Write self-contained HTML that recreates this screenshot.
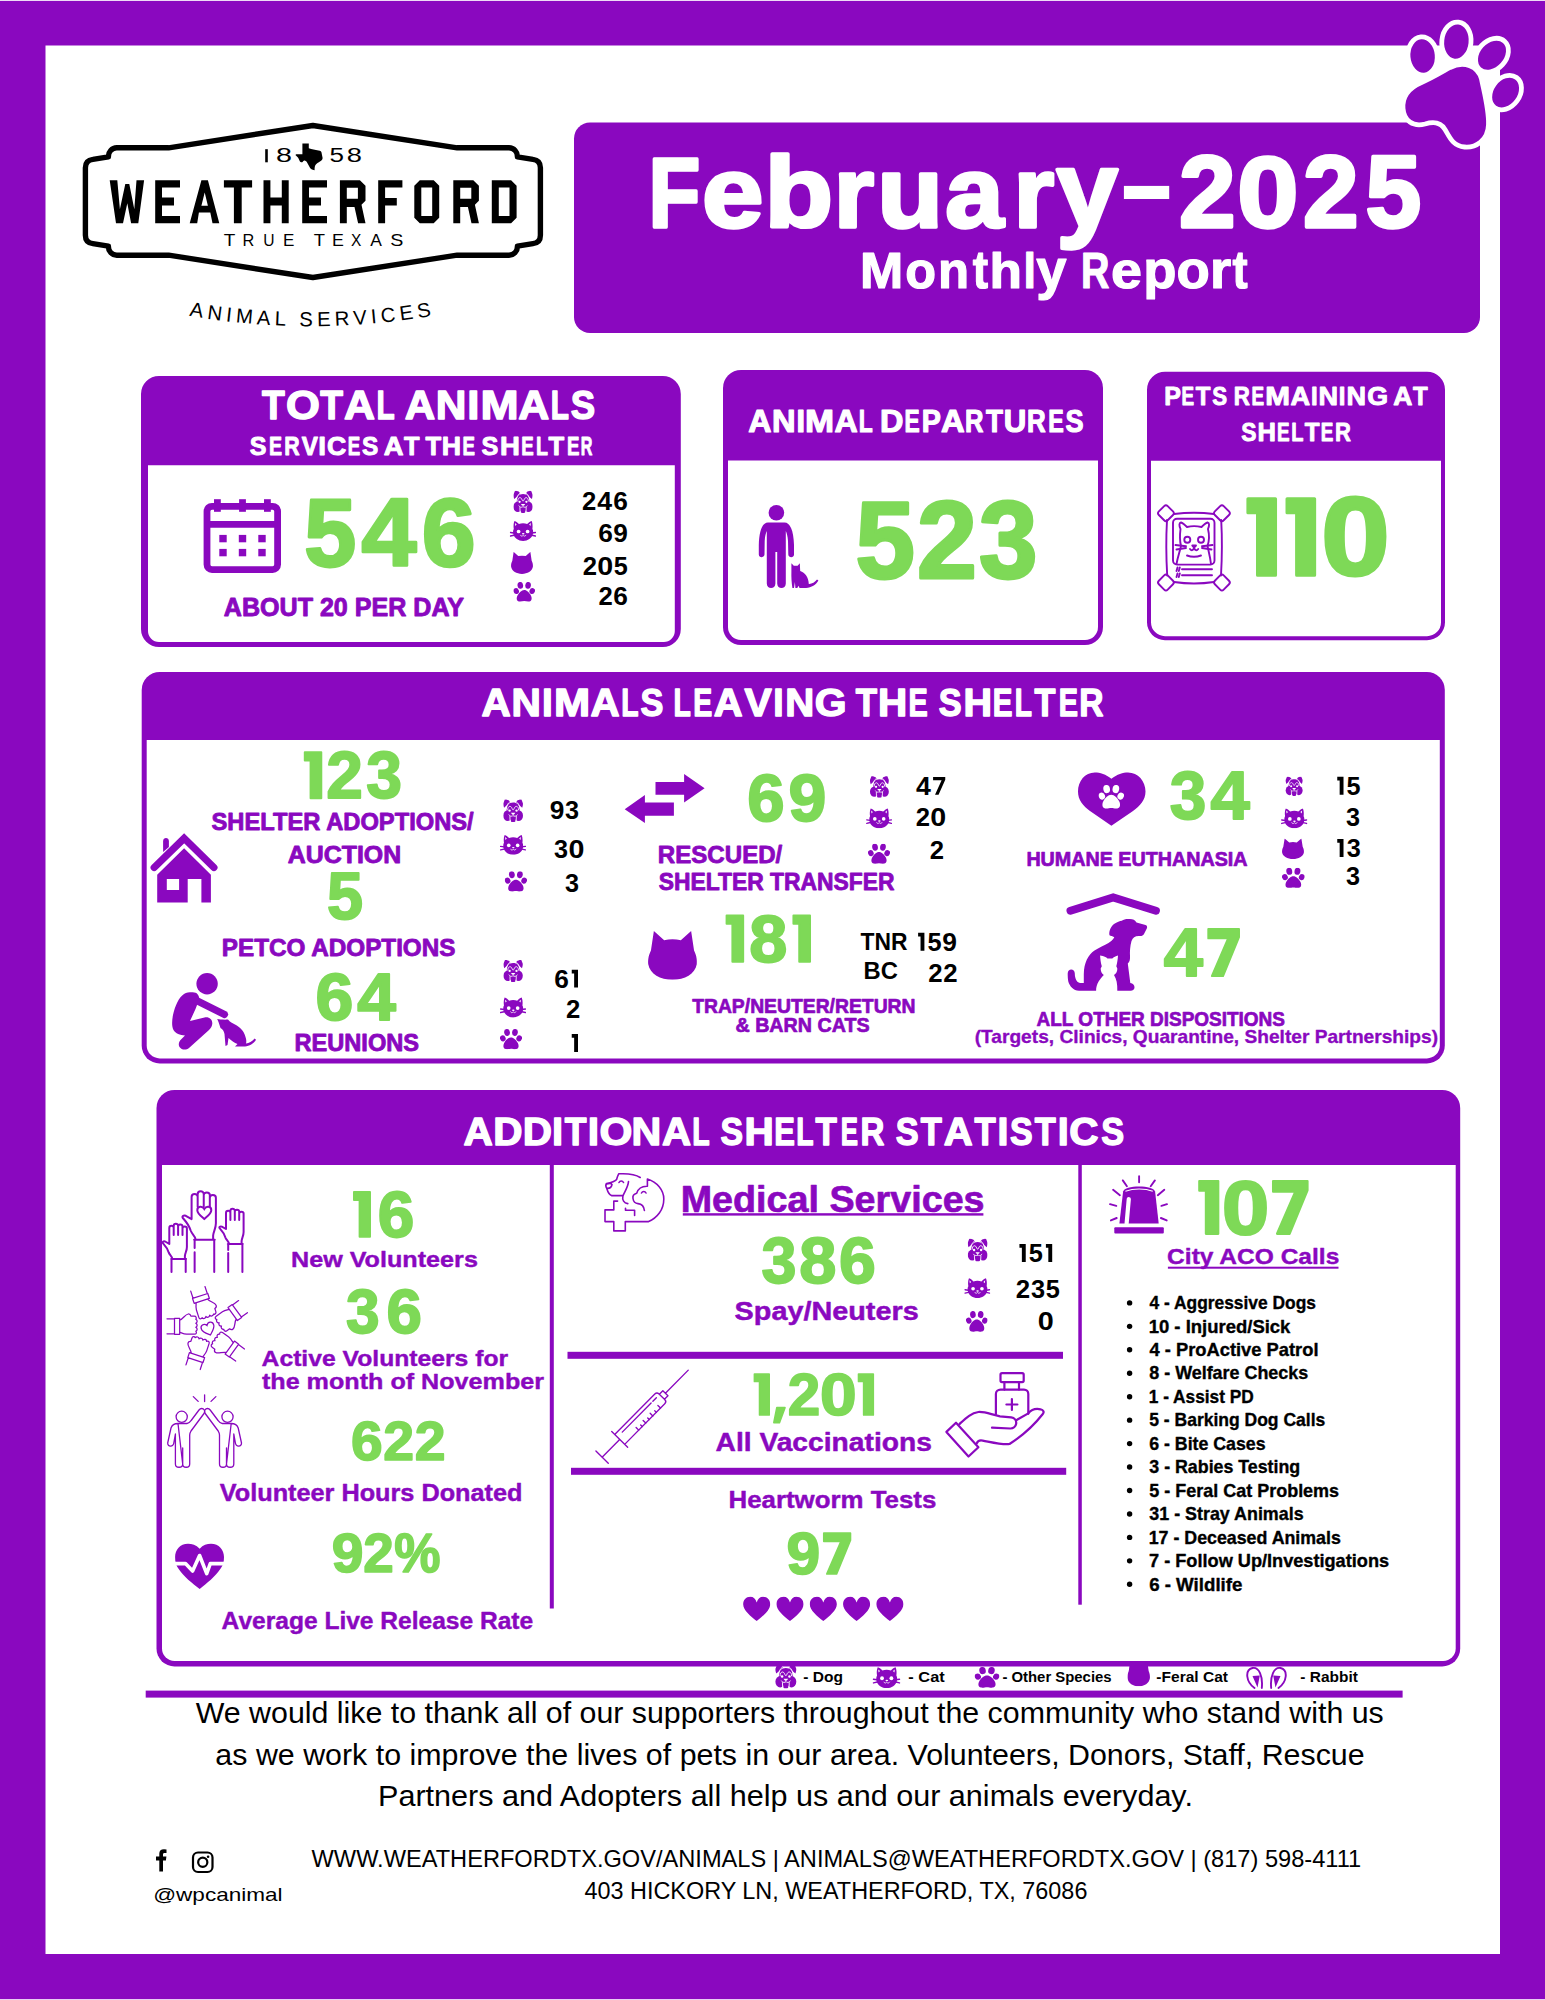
<!DOCTYPE html>
<html><head><meta charset="utf-8"><title>Weatherford Animal Services - February 2025 Monthly Report</title>
<style>
html,body{margin:0;padding:0;background:#fff;width:1545px;height:2000px;overflow:hidden}
svg{display:block}
text{font-family:"Liberation Sans",sans-serif}
</style></head><body>
<svg width="1545" height="2000" viewBox="0 0 1545 2000">
<defs>
<symbol id="dog" viewBox="0 0 19.3 22.2">
  <path d="M1.5,0.2 C3,0 5,0.6 6,1.6 L6.8,3 C5,4.8 2.8,6.5 0.8,8.4 C0.1,6.5 -0.1,5 0.1,3.8 Z"/>
  <path d="M17.8,0.2 C16.3,0 14.3,0.6 13.3,1.6 L12.5,3 C14.3,4.8 16.5,6.5 18.5,8.4 C19.2,6.5 19.4,5 19.2,3.8 Z"/>
  <path d="M3.4,10.5 C3,6 5.5,3.2 9.65,3.2 C13.8,3.2 16.3,6 15.9,10.5 Z"/>
  <ellipse cx="9.65" cy="11.5" rx="6.4" ry="5.6"/>
  <ellipse cx="4.4" cy="16" rx="4.4" ry="5.3"/>
  <ellipse cx="14.9" cy="16" rx="4.4" ry="5.3"/>
  <rect x="6.6" y="13" width="6.1" height="6"/>
  <rect x="7.3" y="16.4" width="4.7" height="5.8" rx="1.3"/>
  <g fill="none" stroke="#fff" stroke-width="0.85" stroke-linecap="round">
   <path d="M4.3,10.4 C4.2,6.4 7.6,5.6 8.7,9.2 C9.1,10.6 10.2,10.6 10.6,9.2 C11.7,5.6 15.1,6.4 15,10.4"/>
   <path d="M6.2,2.7 C4.6,3.8 3.3,6 2.9,9.4 M13.1,2.7 C14.7,3.8 16,6 16.4,9.4"/>
   <path d="M9.65,14.6 V16.5 M5.6,15.2 C6.2,16.4 7.3,16.8 8.5,16.5 M13.7,15.2 C13.1,16.4 12,16.8 10.8,16.5 M6.5,16.8 L6.7,21.8 M12.8,16.8 L12.6,21.8"/>
  </g>
  <circle cx="6.2" cy="11.1" r="1.15" fill="#fff"/><circle cx="13" cy="11.1" r="1.15" fill="#fff"/>
  <path d="M7.6,13.2 H11.7 C11.5,14 10.8,14.6 10.3,14.8 H9 C8.5,14.6 7.8,14 7.6,13.2 Z" fill="#fff"/>
</symbol>
<symbol id="cat" viewBox="0 0 26.2 20.2">
  <path d="M4.65,0.25 C6.5,0.9 8,2 9.2,3.4 C11.5,2.4 15,2.4 17.3,3.4 C18.6,2 20,0.9 21.9,0.25 C22.8,2.5 23,5.5 22.6,8.2 C23.4,9.5 23.6,11.5 23,13.6 C22,17.6 18,20.2 13.3,20.2 C8.6,20.2 4.6,17.6 3.6,13.6 C3,11.5 3.2,9.5 4,8.2 C3.5,5.5 3.7,2.5 4.65,0.25 Z"/>
  <path d="M0.6,11.8 L4,12.3 M0.6,15.3 L4.2,14.5 M25.6,11.8 L22.2,12.3 M25.6,15.3 L22,14.5" stroke="currentColor" stroke-width="1.4" stroke-linecap="round"/>
  <path d="M5.1,2.3 L6.9,3.9 L5.5,5.3 Z M21.1,2.3 L19.3,3.9 L20.7,5.3 Z" fill="#fff"/>
  <circle cx="8.8" cy="10.8" r="1.85" fill="#fff"/><circle cx="17.8" cy="10.8" r="1.85" fill="#fff"/>
  <ellipse cx="13.4" cy="13" rx="1.3" ry="0.75" fill="#fff"/>
  <path d="M10.6,14.2 C11,15.6 12.3,15.9 13.3,14.6 C14.3,15.9 15.6,15.6 16.2,14.2" fill="none" stroke="#fff" stroke-width="0.75"/>
</symbol>
<symbol id="cathead" viewBox="0 0 100 100" preserveAspectRatio="none">
  <path d="M12,0 L33,19 Q50,15 67,19 L88,0 Q91,20 94,40 C100,52 100,62 99.5,68 C96,88 75,100 50,100 C25,100 4,88 0.5,68 C0,62 0,52 6,40 Q9,20 12,0 Z"/>
</symbol>
<symbol id="paw" viewBox="0 0 100 100" preserveAspectRatio="none">
  <ellipse cx="13" cy="46" rx="12.5" ry="15" transform="rotate(-20 13 46)"/>
  <ellipse cx="32" cy="17" rx="13" ry="17" transform="rotate(-8 32 17)"/>
  <ellipse cx="68" cy="17" rx="13" ry="17" transform="rotate(8 68 17)"/>
  <ellipse cx="87" cy="46" rx="12.5" ry="15" transform="rotate(20 87 46)"/>
  <path d="M50,41 C62,41 74,54 81,68 C87,80 86,96 74,98 C64,99.5 58,96 50,96 C42,96 36,99.5 26,98 C14,96 13,80 19,68 C26,54 38,41 50,41 Z"/>
</symbol>
<symbol id="heart" viewBox="0 0 100 90">
  <path d="M50,22 C46,8 38,1 27,1 C11,1 1,13 1,28 C1,50 28,71 50,89 C72,71 99,50 99,28 C99,13 89,1 73,1 C62,1 54,8 50,22 Z"/>
</symbol>
</defs>
<rect x="0" y="0.85" width="1545" height="1998.35" fill="#8a08bf" />
<rect x="45.5" y="45.5" width="1454.5" height="1908.5" fill="#ffffff" />
<path d="M590,122.5 H1464 A16,16 0 0 1 1480,138.5 V317 A16,16 0 0 1 1464,333 H590 A16,16 0 0 1 574,317 V138.5 A16,16 0 0 1 590,122.5 Z" fill="#8a08bf"/>
<g fill="#ffffff" font-weight="bold" stroke="#ffffff" stroke-width="3.4" stroke-linejoin="round"><text transform="translate(648.59,227.3) scale(0.8608,1)" font-size="98.4">F</text><text transform="translate(701.98,227.3) scale(1.1040,1)" font-size="100.2">e</text><text transform="translate(764.60,227.3) scale(1.1273,1)" font-size="99.6">b</text><text transform="translate(833.77,227.3) scale(1.0376,1)" font-size="99.8">r</text><text transform="translate(877.34,227.3) scale(1.0763,1)" font-size="100">u</text><text transform="translate(945.35,227.3) scale(1.0434,1)" font-size="100.5">a</text><text transform="translate(1013.41,227.3) scale(1.0473,1)" font-size="99.8">r</text><text transform="translate(1056.29,227.3) scale(1.0355,1)" font-size="107.3">y</text><rect x="1123.9" y="185.9" width="45.30" height="13.10" stroke="none"/><text transform="translate(1179.03,227.3) scale(0.9988,1)" font-size="102">2</text><text transform="translate(1237.20,227.3) scale(1.0902,1)" font-size="101">0</text><text transform="translate(1303.00,227.3) scale(0.9804,1)" font-size="102">2</text><text transform="translate(1365.49,227.3) scale(0.9862,1)" font-size="101.6">5</text></g>
<g fill="#ffffff" font-weight="bold" stroke="#ffffff" stroke-width="1.2" stroke-linejoin="round"><text transform="translate(859.93,288.1) scale(1.0434,1)" font-size="49.7">M</text><text transform="translate(905.28,288.1) scale(0.9782,1)" font-size="51.5">o</text><text transform="translate(938.09,288.1) scale(0.9889,1)" font-size="51.5">n</text><text transform="translate(972.84,288.1) scale(0.8542,1)" font-size="54">t</text><text transform="translate(989.48,288.1) scale(1.0668,1)" font-size="49.8">h</text><text transform="translate(1023.45,288.1) scale(0.9036,1)" font-size="49.8">l</text><text transform="translate(1036.26,288.1) scale(0.9917,1)" font-size="54.9">y</text><text transform="translate(1080.94,288.1) scale(0.7922,1)" font-size="49.7">R</text><text transform="translate(1111.08,288.1) scale(1.0801,1)" font-size="51.5">e</text><text transform="translate(1143.16,288.1) scale(1.0066,1)" font-size="54.1">p</text><text transform="translate(1176.52,288.1) scale(1.0588,1)" font-size="51.5">o</text><text transform="translate(1209.96,288.1) scale(1.0586,1)" font-size="51.5">r</text><text transform="translate(1232.55,288.1) scale(0.8423,1)" font-size="54">t</text></g>
<path d="M159,376 H662.8 A18,18 0 0 1 680.8,394 V629 A18,18 0 0 1 662.8,647 H159 A18,18 0 0 1 141,629 V394 A18,18 0 0 1 159,376 Z" fill="#8a08bf"/>
<path d="M148,465.2 H674.8 A0,0 0 0 1 674.8,465.2 V631 A11,11 0 0 1 663.8,642 H159 A11,11 0 0 1 148,631 V465.2 A0,0 0 0 1 148,465.2 Z" fill="#ffffff"/>
<g fill="#ffffff" font-weight="bold" stroke="#ffffff" stroke-width="1.45" stroke-linejoin="round"><text transform="translate(262.05,418.7) scale(0.9186,1)" font-size="40.5">T</text><text transform="translate(285.88,418.7) scale(1.0747,1)" font-size="40.5">O</text><text transform="translate(320.15,418.7) scale(0.9186,1)" font-size="40.5">T</text><text transform="translate(343.95,418.7) scale(1.0595,1)" font-size="40.5">A</text><text transform="translate(376.59,418.7) scale(0.7359,1)" font-size="40.5">L</text><text transform="translate(404.77,418.7) scale(1.0411,1)" font-size="40.5">A</text><text transform="translate(435.67,418.7) scale(1.0483,1)" font-size="40.5">N</text><text transform="translate(467.28,418.7) scale(1.0813,1)" font-size="40.5">I</text><text transform="translate(480.55,418.7) scale(1.1305,1)" font-size="40.5">M</text><text transform="translate(518.15,418.7) scale(1.0595,1)" font-size="40.5">A</text><text transform="translate(550.79,418.7) scale(0.7359,1)" font-size="40.5">L</text><text transform="translate(570.63,418.7) scale(0.9033,1)" font-size="40.5">S</text></g>
<g fill="#ffffff" font-weight="bold" stroke="#ffffff" stroke-width="0.95" stroke-linejoin="round"><text transform="translate(249.82,454.8) scale(0.9537,1)" font-size="26.3">S</text><text transform="translate(269.00,454.8) scale(0.7436,1)" font-size="26.3">E</text><text transform="translate(284.29,454.8) scale(0.8114,1)" font-size="26.3">R</text><text transform="translate(301.65,454.8) scale(0.9201,1)" font-size="26.3">V</text><text transform="translate(318.36,454.8) scale(1.0620,1)" font-size="26.3">I</text><text transform="translate(327.11,454.8) scale(1.0130,1)" font-size="26.3">C</text><text transform="translate(347.66,454.8) scale(0.7100,1)" font-size="26.3">E</text><text transform="translate(361.94,454.8) scale(0.9284,1)" font-size="26.3">S</text><text transform="translate(383.79,454.8) scale(1.0414,1)" font-size="26.3">A</text><text transform="translate(403.92,454.8) scale(0.9635,1)" font-size="26.3">T</text><text transform="translate(425.62,454.8) scale(0.9763,1)" font-size="26.3">T</text><text transform="translate(441.84,454.8) scale(1.0150,1)" font-size="26.3">H</text><text transform="translate(462.56,454.8) scale(0.7100,1)" font-size="26.3">E</text><text transform="translate(481.42,454.8) scale(0.9601,1)" font-size="26.3">S</text><text transform="translate(499.88,454.8) scale(1.0472,1)" font-size="26.3">H</text><text transform="translate(521.16,454.8) scale(0.7100,1)" font-size="26.3">E</text><text transform="translate(536.01,454.8) scale(0.7420,1)" font-size="26.3">L</text><text transform="translate(548.52,454.8) scale(0.9763,1)" font-size="26.3">T</text><text transform="translate(567.06,454.8) scale(0.7100,1)" font-size="26.3">E</text><text transform="translate(580.63,454.8) scale(0.6138,1)" font-size="26.3">R</text></g>
<g fill="#7ed957" stroke="#7ed957" stroke-width="2.75" stroke-linejoin="round"><text transform="translate(304.28,566.32) scale(0.9733,1)" font-size="96.00" font-weight="bold">5</text><text transform="translate(361.56,566.32) scale(1.0295,1)" font-size="96.00" font-weight="bold">4</text><text transform="translate(421.86,566.32) scale(1.0090,1)" font-size="96.00" font-weight="bold">6</text></g>
<text x="223.82" y="615.7" font-size="25.6" fill="#8a08bf" textLength="240.15" lengthAdjust="spacingAndGlyphs" stroke="#8a08bf" stroke-width="0.90" stroke-linejoin="round" font-weight="bold" >ABOUT 20 PER DAY</text>
<g fill="#000000"><text transform="translate(581.89,509.60) scale(0.9869,1)" font-size="26.02" font-weight="bold">2</text><text transform="translate(597.15,509.60) scale(1.0269,1)" font-size="26.02" font-weight="bold">4</text><text transform="translate(613.32,509.60) scale(1.0113,1)" font-size="26.02" font-weight="bold">6</text></g>
<g fill="#000000"><text transform="translate(598.19,541.60) scale(1.0113,1)" font-size="26.02" font-weight="bold">6</text><text transform="translate(613.37,541.60) scale(1.0093,1)" font-size="26.02" font-weight="bold">9</text></g>
<g fill="#000000"><text transform="translate(582.78,574.70) scale(0.9869,1)" font-size="26.02" font-weight="bold">2</text><text transform="translate(597.30,574.70) scale(1.1008,1)" font-size="26.02" font-weight="bold">0</text><text transform="translate(613.69,574.70) scale(0.9690,1)" font-size="26.02" font-weight="bold">5</text></g>
<g fill="#000000"><text transform="translate(598.62,604.70) scale(0.9869,1)" font-size="26.02" font-weight="bold">2</text><text transform="translate(613.32,604.70) scale(1.0113,1)" font-size="26.02" font-weight="bold">6</text></g>
<path d="M741,370 H1085 A18,18 0 0 1 1103,388 V627 A18,18 0 0 1 1085,645 H741 A18,18 0 0 1 723,627 V388 A18,18 0 0 1 741,370 Z" fill="#8a08bf"/>
<path d="M728,460.5 H1098 A0,0 0 0 1 1098,460.5 V627 A13,13 0 0 1 1085,640 H741 A13,13 0 0 1 728,627 V460.5 A0,0 0 0 1 728,460.5 Z" fill="#ffffff"/>
<g fill="#ffffff" font-weight="bold" stroke="#ffffff" stroke-width="1.15" stroke-linejoin="round"><text transform="translate(748.37,432) scale(1.0309,1)" font-size="31.2">A</text><text transform="translate(771.95,432) scale(1.0457,1)" font-size="31.2">N</text><text transform="translate(796.38,432) scale(0.9836,1)" font-size="31.2">I</text><text transform="translate(805.10,432) scale(1.1195,1)" font-size="31.2">M</text><text transform="translate(834.47,432) scale(1.0309,1)" font-size="31.2">A</text><text transform="translate(858.69,432) scale(0.7313,1)" font-size="31.2">L</text><text transform="translate(880.07,432) scale(1.0397,1)" font-size="31.2">D</text><text transform="translate(904.50,432) scale(0.7290,1)" font-size="31.2">E</text><text transform="translate(921.71,432) scale(0.9194,1)" font-size="31.2">P</text><text transform="translate(940.96,432) scale(1.0500,1)" font-size="31.2">A</text><text transform="translate(965.01,432) scale(0.8202,1)" font-size="31.2">R</text><text transform="translate(986.10,432) scale(0.8882,1)" font-size="31.2">T</text><text transform="translate(1003.80,432) scale(1.0016,1)" font-size="31.2">U</text><text transform="translate(1027.09,432) scale(0.8303,1)" font-size="31.2">R</text><text transform="translate(1048.26,432) scale(0.7460,1)" font-size="31.2">E</text><text transform="translate(1065.56,432) scale(0.8681,1)" font-size="31.2">S</text></g>
<g fill="#7ed957" stroke="#7ed957" stroke-width="3.14" stroke-linejoin="round"><text transform="translate(855.56,577.63) scale(0.9733,1)" font-size="109.67" font-weight="bold">5</text><text transform="translate(916.98,577.63) scale(0.9834,1)" font-size="109.67" font-weight="bold">2</text><text transform="translate(979.04,577.63) scale(0.9589,1)" font-size="109.67" font-weight="bold">3</text></g>
<path d="M1165,371.7 H1427 A18,18 0 0 1 1445,389.7 V622.2 A18,18 0 0 1 1427,640.2 H1165 A18,18 0 0 1 1147,622.2 V389.7 A18,18 0 0 1 1165,371.7 Z" fill="#8a08bf"/>
<path d="M1151,460.7 H1441 A0,0 0 0 1 1441,460.7 V622.2 A14,14 0 0 1 1427,636.2 H1165 A14,14 0 0 1 1151,622.2 V460.7 A0,0 0 0 1 1151,460.7 Z" fill="#ffffff"/>
<g fill="#ffffff" font-weight="bold" stroke="#ffffff" stroke-width="0.93" stroke-linejoin="round"><text transform="translate(1164.14,404.9) scale(0.9722,1)" font-size="25.75">P</text><text transform="translate(1181.44,404.9) scale(0.7334,1)" font-size="25.75">E</text><text transform="translate(1195.82,404.9) scale(0.9327,1)" font-size="25.75">T</text><text transform="translate(1212.30,404.9) scale(0.8654,1)" font-size="25.75">S</text><text transform="translate(1233.81,404.9) scale(0.8666,1)" font-size="25.75">R</text><text transform="translate(1251.44,404.9) scale(0.7334,1)" font-size="25.75">E</text><text transform="translate(1265.34,404.9) scale(1.1523,1)" font-size="25.75">M</text><text transform="translate(1290.59,404.9) scale(1.0532,1)" font-size="25.75">A</text><text transform="translate(1311.11,404.9) scale(0.9294,1)" font-size="25.75">I</text><text transform="translate(1318.41,404.9) scale(1.0512,1)" font-size="25.75">N</text><text transform="translate(1338.71,404.9) scale(0.9294,1)" font-size="25.75">I</text><text transform="translate(1346.51,404.9) scale(1.0512,1)" font-size="25.75">N</text><text transform="translate(1367.29,404.9) scale(1.0396,1)" font-size="25.75">G</text><text transform="translate(1393.30,404.9) scale(1.0300,1)" font-size="25.75">A</text><text transform="translate(1413.02,404.9) scale(0.9327,1)" font-size="25.75">T</text></g>
<g fill="#ffffff" font-weight="bold" stroke="#ffffff" stroke-width="0.93" stroke-linejoin="round"><text transform="translate(1241.28,440.5) scale(0.8848,1)" font-size="25.75">S</text><text transform="translate(1257.60,440.5) scale(0.9919,1)" font-size="25.75">H</text><text transform="translate(1277.04,440.5) scale(0.7334,1)" font-size="25.75">E</text><text transform="translate(1291.27,440.5) scale(0.7744,1)" font-size="25.75">L</text><text transform="translate(1304.72,440.5) scale(0.9393,1)" font-size="25.75">T</text><text transform="translate(1320.84,440.5) scale(0.7334,1)" font-size="25.75">E</text><text transform="translate(1334.93,440.5) scale(0.8544,1)" font-size="25.75">R</text></g>
<g fill="#7ed957" stroke="#7ed957" stroke-width="3.18" stroke-linejoin="round"><path d="M1247.99,498.79 H1275.45 V575.21 H1257.59 V512.64 H1247.99 Z"/><path d="M1287.10,498.79 H1314.56 V575.21 H1296.69 V512.64 H1287.10 Z"/><text transform="translate(1321.28,575.21) scale(1.1089,1)" font-size="111.07" font-weight="bold">0</text></g>
<path d="M159.7,672 H1426.8 A18,18 0 0 1 1444.8,690 V1045.4 A18,18 0 0 1 1426.8,1063.4 H159.7 A18,18 0 0 1 141.7,1045.4 V690 A18,18 0 0 1 159.7,672 Z" fill="#8a08bf"/>
<path d="M146.7,740 H1439.8 A0,0 0 0 1 1439.8,740 V1045.4 A13,13 0 0 1 1426.8,1058.4 H159.7 A13,13 0 0 1 146.7,1045.4 V740 A0,0 0 0 1 146.7,740 Z" fill="#ffffff"/>
<g fill="#ffffff" font-weight="bold" stroke="#ffffff" stroke-width="1.4" stroke-linejoin="round"><text transform="translate(481.39,715.7) scale(1.0479,1)" font-size="38.6">A</text><text transform="translate(511.46,715.7) scale(1.0538,1)" font-size="38.6">N</text><text transform="translate(541.89,715.7) scale(1.0005,1)" font-size="38.6">I</text><text transform="translate(553.98,715.7) scale(1.1251,1)" font-size="38.6">M</text><text transform="translate(590.39,715.7) scale(1.0440,1)" font-size="38.6">A</text><text transform="translate(621.16,715.7) scale(0.7344,1)" font-size="38.6">L</text><text transform="translate(640.57,715.7) scale(0.8895,1)" font-size="38.6">S</text><text transform="translate(673.46,715.7) scale(0.7344,1)" font-size="38.6">L</text><text transform="translate(693.15,715.7) scale(0.7382,1)" font-size="38.6">E</text><text transform="translate(713.80,715.7) scale(1.0363,1)" font-size="38.6">A</text><text transform="translate(744.50,715.7) scale(1.0600,1)" font-size="38.6">V</text><text transform="translate(773.28,715.7) scale(0.9648,1)" font-size="38.6">I</text><text transform="translate(785.29,715.7) scale(1.0407,1)" font-size="38.6">N</text><text transform="translate(814.86,715.7) scale(1.0593,1)" font-size="38.6">G</text><text transform="translate(855.75,715.7) scale(0.9045,1)" font-size="38.6">T</text><text transform="translate(878.07,715.7) scale(1.0494,1)" font-size="38.6">H</text><text transform="translate(908.52,715.7) scale(0.7474,1)" font-size="38.6">E</text><text transform="translate(938.67,715.7) scale(0.8895,1)" font-size="38.6">S</text><text transform="translate(963.53,715.7) scale(1.0231,1)" font-size="38.6">H</text><text transform="translate(992.78,715.7) scale(0.7657,1)" font-size="38.6">E</text><text transform="translate(1014.87,715.7) scale(0.7294,1)" font-size="38.6">L</text><text transform="translate(1034.46,715.7) scale(0.8870,1)" font-size="38.6">T</text><text transform="translate(1058.82,715.7) scale(0.7474,1)" font-size="38.6">E</text><text transform="translate(1079.22,715.7) scale(0.8690,1)" font-size="38.6">R</text></g>
<g fill="#7ed957" stroke="#7ed957" stroke-width="1.92" stroke-linejoin="round"><path d="M304.76,752.26 H321.32 V798.34 H310.55 V760.61 H304.76 Z"/><text transform="translate(326.32,798.34) scale(0.9834,1)" font-size="66.98" font-weight="bold">2</text><text transform="translate(366.14,798.34) scale(0.9589,1)" font-size="66.98" font-weight="bold">3</text></g>
<text x="211.52" y="830.3" font-size="24.8" fill="#8a08bf" textLength="262.20" lengthAdjust="spacingAndGlyphs" stroke="#8a08bf" stroke-width="0.87" stroke-linejoin="round" font-weight="bold" >SHELTER ADOPTIONS/</text>
<text x="287.81" y="863" font-size="24.8" fill="#8a08bf" textLength="113.38" lengthAdjust="spacingAndGlyphs" stroke="#8a08bf" stroke-width="0.87" stroke-linejoin="round" font-weight="bold" >AUCTION</text>
<g fill="#7ed957" stroke="#7ed957" stroke-width="1.91" stroke-linejoin="round"><text transform="translate(326.95,918.75) scale(0.9733,1)" font-size="66.56" font-weight="bold">5</text></g>
<text x="221.86" y="956" font-size="24.8" fill="#8a08bf" textLength="233.57" lengthAdjust="spacingAndGlyphs" stroke="#8a08bf" stroke-width="0.87" stroke-linejoin="round" font-weight="bold" >PETCO ADOPTIONS</text>
<g fill="#7ed957" stroke="#7ed957" stroke-width="1.93" stroke-linejoin="round"><text transform="translate(315.45,1020.33) scale(1.0090,1)" font-size="67.40" font-weight="bold">6</text><text transform="translate(357.20,1020.33) scale(1.0295,1)" font-size="67.40" font-weight="bold">4</text></g>
<text x="294.50" y="1050.7" font-size="24.8" fill="#8a08bf" textLength="124.57" lengthAdjust="spacingAndGlyphs" stroke="#8a08bf" stroke-width="0.87" stroke-linejoin="round" font-weight="bold" >REUNIONS</text>
<g fill="#000000"><text transform="translate(549.63,818.70) scale(1.0093,1)" font-size="26.02" font-weight="bold">9</text><text transform="translate(565.09,818.70) scale(0.9690,1)" font-size="26.02" font-weight="bold">3</text></g>
<g fill="#000000"><text transform="translate(554.07,857.60) scale(0.9690,1)" font-size="26.02" font-weight="bold">3</text><text transform="translate(568.45,857.60) scale(1.1008,1)" font-size="26.02" font-weight="bold">0</text></g>
<g fill="#000000"><text transform="translate(565.09,891.50) scale(0.9690,1)" font-size="26.02" font-weight="bold">3</text></g>
<g fill="#000000"><text transform="translate(554.29,987.60) scale(1.0113,1)" font-size="26.02" font-weight="bold">6</text><path d="M571.74,969.70 H578.00 V987.60 H574.15 V973.46 H571.74 Z"/></g>
<g fill="#000000"><text transform="translate(566.00,1017.80) scale(0.9869,1)" font-size="26.02" font-weight="bold">2</text></g>
<g fill="#000000"><path d="M571.74,1034.10 H578.00 V1052.00 H574.15 V1037.86 H571.74 Z"/></g>
<g fill="#7ed957" stroke="#7ed957" stroke-width="1.91" stroke-linejoin="round"><text transform="translate(747.37,821.45) scale(1.0090,1)" font-size="66.56" font-weight="bold">6</text><text transform="translate(788.45,821.45) scale(1.0217,1)" font-size="66.56" font-weight="bold">9</text></g>
<text x="657.86" y="862.5" font-size="24" fill="#8a08bf" textLength="124.41" lengthAdjust="spacingAndGlyphs" stroke="#8a08bf" stroke-width="0.84" stroke-linejoin="round" font-weight="bold" >RESCUED/</text>
<text x="658.73" y="890" font-size="24" fill="#8a08bf" textLength="235.71" lengthAdjust="spacingAndGlyphs" stroke="#8a08bf" stroke-width="0.84" stroke-linejoin="round" font-weight="bold" >SHELTER TRANSFER</text>
<g fill="#000000"><text transform="translate(915.94,794.85) scale(1.0269,1)" font-size="26.02" font-weight="bold">4</text><path d="M933.08,776.95 H945.25 V779.81 L938.56,794.85 H935.03 L941.60,780.26 H933.08 Z"/></g>
<g fill="#000000"><text transform="translate(915.73,825.50) scale(0.9869,1)" font-size="26.02" font-weight="bold">2</text><text transform="translate(930.25,825.50) scale(1.1008,1)" font-size="26.02" font-weight="bold">0</text></g>
<g fill="#000000"><text transform="translate(929.75,859.00) scale(0.9869,1)" font-size="26.02" font-weight="bold">2</text></g>
<g fill="#7ed957" stroke="#7ed957" stroke-width="1.93" stroke-linejoin="round"><path d="M726.56,915.46 H743.19 V961.74 H732.37 V923.85 H726.56 Z"/><text transform="translate(749.24,961.74) scale(1.0176,1)" font-size="67.26" font-weight="bold">8</text><path d="M793.41,915.46 H810.04 V961.74 H799.22 V923.85 H793.41 Z"/></g>
<text x="860.47" y="949.8" font-size="24.8" fill="#000000" textLength="46.99" lengthAdjust="spacingAndGlyphs" font-weight="bold" >TNR</text>
<g fill="#000000"><path d="M918.11,932.70 H924.41 V950.70 H920.54 V936.48 H918.11 Z"/><text transform="translate(927.40,950.70) scale(0.9690,1)" font-size="26.16" font-weight="bold">5</text><text transform="translate(942.30,950.70) scale(1.0093,1)" font-size="26.16" font-weight="bold">9</text></g>
<text x="863.55" y="978.8" font-size="24.8" fill="#000000" textLength="34.34" lengthAdjust="spacingAndGlyphs" font-weight="bold" >BC</text>
<g fill="#000000"><text transform="translate(928.33,981.50) scale(0.9869,1)" font-size="26.16" font-weight="bold">2</text><text transform="translate(943.18,981.50) scale(0.9869,1)" font-size="26.16" font-weight="bold">2</text></g>
<text x="692.15" y="1012.6" font-size="19.7" fill="#8a08bf" textLength="223.38" lengthAdjust="spacingAndGlyphs" stroke="#8a08bf" stroke-width="0.69" stroke-linejoin="round" font-weight="bold" >TRAP/NEUTER/RETURN</text>
<text x="735.46" y="1031.5" font-size="19.7" fill="#8a08bf" textLength="134.18" lengthAdjust="spacingAndGlyphs" stroke="#8a08bf" stroke-width="0.69" stroke-linejoin="round" font-weight="bold" >&amp; BARN CATS</text>
<g fill="#7ed957" stroke="#7ed957" stroke-width="1.96" stroke-linejoin="round"><text transform="translate(1169.87,818.82) scale(0.9589,1)" font-size="68.51" font-weight="bold">3</text><text transform="translate(1210.45,818.82) scale(1.0295,1)" font-size="68.51" font-weight="bold">4</text></g>
<text x="1026.39" y="865.5" font-size="21" fill="#8a08bf" textLength="221.19" lengthAdjust="spacingAndGlyphs" stroke="#8a08bf" stroke-width="0.74" stroke-linejoin="round" font-weight="bold" >HUMANE EUTHANASIA</text>
<g fill="#000000"><path d="M1337.25,776.80 H1343.51 V794.70 H1339.66 V780.56 H1337.25 Z"/><text transform="translate(1346.49,794.70) scale(0.9690,1)" font-size="26.02" font-weight="bold">5</text></g>
<g fill="#000000"><text transform="translate(1346.09,825.80) scale(0.9690,1)" font-size="26.02" font-weight="bold">3</text></g>
<g fill="#000000"><path d="M1337.25,839.00 H1343.51 V856.90 H1339.66 V842.76 H1337.25 Z"/><text transform="translate(1346.69,856.90) scale(0.9690,1)" font-size="26.02" font-weight="bold">3</text></g>
<g fill="#000000"><text transform="translate(1346.09,884.60) scale(0.9690,1)" font-size="26.02" font-weight="bold">3</text></g>
<g fill="#7ed957" stroke="#7ed957" stroke-width="1.96" stroke-linejoin="round"><text transform="translate(1163.82,976.02) scale(1.0295,1)" font-size="68.37" font-weight="bold">4</text><path d="M1208.30,928.98 H1239.02 V937.21 L1223.04,976.02 H1211.83 L1228.11,938.39 H1208.30 Z"/></g>
<text x="1036.57" y="1025.7" font-size="19.9" fill="#8a08bf" textLength="248.42" lengthAdjust="spacingAndGlyphs" stroke="#8a08bf" stroke-width="0.70" stroke-linejoin="round" font-weight="bold" >ALL OTHER DISPOSITIONS</text>
<text x="974.70" y="1042.8" font-size="17.8" fill="#8a08bf" textLength="463.40" lengthAdjust="spacingAndGlyphs" stroke="#8a08bf" stroke-width="0.32" stroke-linejoin="round" font-weight="bold" >(Targets, Clinics, Quarantine, Shelter Partnerships)</text>
<path d="M174.5,1090 H1442.2 A18,18 0 0 1 1460.2,1108 V1648.4 A18,18 0 0 1 1442.2,1666.4 H174.5 A18,18 0 0 1 156.5,1648.4 V1108 A18,18 0 0 1 174.5,1090 Z" fill="#8a08bf"/>
<path d="M162.0,1165 H1455.7 A0,0 0 0 1 1455.7,1165 V1648.4 A12.5,12.5 0 0 1 1443.2,1660.9 H174.5 A12.5,12.5 0 0 1 162.0,1648.4 V1165 A0,0 0 0 1 162.0,1165 Z" fill="#ffffff"/>
<g fill="#ffffff" font-weight="bold" stroke="#ffffff" stroke-width="1.4" stroke-linejoin="round"><text transform="translate(463.59,1145.1) scale(1.0383,1)" font-size="39.1">A</text><text transform="translate(493.27,1145.1) scale(1.0355,1)" font-size="39.1">D</text><text transform="translate(522.77,1145.1) scale(1.0355,1)" font-size="39.1">D</text><text transform="translate(552.00,1145.1) scale(1.0230,1)" font-size="39.1">I</text><text transform="translate(564.74,1145.1) scale(0.9103,1)" font-size="39.1">T</text><text transform="translate(587.76,1145.1) scale(1.0407,1)" font-size="39.1">I</text><text transform="translate(599.61,1145.1) scale(1.0819,1)" font-size="39.1">O</text><text transform="translate(631.62,1145.1) scale(1.0534,1)" font-size="39.1">N</text><text transform="translate(661.89,1145.1) scale(1.0307,1)" font-size="39.1">A</text><text transform="translate(692.34,1145.1) scale(0.7300,1)" font-size="39.1">L</text><text transform="translate(720.39,1145.1) scale(0.8653,1)" font-size="39.1">S</text><text transform="translate(744.47,1145.1) scale(1.0360,1)" font-size="39.1">H</text><text transform="translate(774.29,1145.1) scale(0.7922,1)" font-size="39.1">E</text><text transform="translate(796.26,1145.1) scale(0.7251,1)" font-size="39.1">L</text><text transform="translate(815.45,1145.1) scale(0.8930,1)" font-size="39.1">T</text><text transform="translate(840.82,1145.1) scale(0.6609,1)" font-size="39.1">E</text><text transform="translate(860.45,1145.1) scale(0.8458,1)" font-size="39.1">R</text><text transform="translate(895.77,1145.1) scale(0.8781,1)" font-size="39.1">S</text><text transform="translate(920.75,1145.1) scale(0.8843,1)" font-size="39.1">T</text><text transform="translate(943.80,1145.1) scale(1.0268,1)" font-size="39.1">A</text><text transform="translate(974.45,1145.1) scale(0.8886,1)" font-size="39.1">T</text><text transform="translate(997.44,1145.1) scale(1.0054,1)" font-size="39.1">I</text><text transform="translate(1009.88,1145.1) scale(0.8696,1)" font-size="39.1">S</text><text transform="translate(1034.66,1145.1) scale(0.8800,1)" font-size="39.1">T</text><text transform="translate(1057.74,1145.1) scale(1.0054,1)" font-size="39.1">I</text><text transform="translate(1069.28,1145.1) scale(1.0347,1)" font-size="39.1">C</text><text transform="translate(1101.27,1145.1) scale(0.8781,1)" font-size="39.1">S</text></g>
<rect x="549.8" y="1165" width="4" height="443.5" fill="#8a08bf" />
<rect x="1078.3" y="1165" width="3.5" height="439.7" fill="#8a08bf" />
<g fill="#7ed957" stroke="#7ed957" stroke-width="1.87" stroke-linejoin="round"><path d="M353.93,1191.93 H370.05 V1236.77 H359.56 V1200.06 H353.93 Z"/><text transform="translate(377.78,1236.77) scale(1.0090,1)" font-size="65.16" font-weight="bold">6</text></g>
<text x="290.97" y="1266.6" font-size="22.6" fill="#8a08bf" textLength="186.91" lengthAdjust="spacingAndGlyphs" stroke="#8a08bf" stroke-width="0.41" stroke-linejoin="round" font-weight="bold" >New Volunteers</text>
<g fill="#7ed957" stroke="#7ed957" stroke-width="1.81" stroke-linejoin="round"><text transform="translate(346.01,1332.90) scale(0.9589,1)" font-size="63.07" font-weight="bold">3</text><text transform="translate(386.51,1332.90) scale(1.0090,1)" font-size="63.07" font-weight="bold">6</text></g>
<text x="261.59" y="1365.7" font-size="22.6" fill="#8a08bf" textLength="246.56" lengthAdjust="spacingAndGlyphs" stroke="#8a08bf" stroke-width="0.41" stroke-linejoin="round" font-weight="bold" >Active Volunteers for</text>
<text x="261.95" y="1389" font-size="22.6" fill="#8a08bf" textLength="282.07" lengthAdjust="spacingAndGlyphs" stroke="#8a08bf" stroke-width="0.41" stroke-linejoin="round" font-weight="bold" >the month of November</text>
<g fill="#7ed957" stroke="#7ed957" stroke-width="1.62" stroke-linejoin="round"><text transform="translate(350.90,1459.99) scale(1.0090,1)" font-size="56.37" font-weight="bold">6</text><text transform="translate(383.33,1459.99) scale(0.9834,1)" font-size="56.37" font-weight="bold">2</text><text transform="translate(414.79,1459.99) scale(0.9834,1)" font-size="56.37" font-weight="bold">2</text></g>
<text x="219.80" y="1501" font-size="24.6" fill="#8a08bf" textLength="302.69" lengthAdjust="spacingAndGlyphs" stroke="#8a08bf" stroke-width="0.44" stroke-linejoin="round" font-weight="bold" >Volunteer Hours Donated</text>
<g fill="#7ed957" stroke="#7ed957" stroke-width="1.60" stroke-linejoin="round"><text transform="translate(331.70,1571.70) scale(1.0217,1)" font-size="55.81" font-weight="bold">9</text><text transform="translate(363.33,1571.70) scale(0.9834,1)" font-size="55.81" font-weight="bold">2</text><text transform="translate(394.30,1571.70) scale(0.9322,1)" font-size="55.81" font-weight="bold">%</text></g>
<text x="221.60" y="1629.2" font-size="23.5" fill="#8a08bf" textLength="311.62" lengthAdjust="spacingAndGlyphs" stroke="#8a08bf" stroke-width="0.42" stroke-linejoin="round" font-weight="bold" >Average Live Release Rate</text>
<text x="680.68" y="1211.7" font-size="37" fill="#8a08bf" textLength="303.92" lengthAdjust="spacingAndGlyphs" stroke="#8a08bf" stroke-width="0.67" stroke-linejoin="round" font-weight="bold" >Medical Services</text>
<rect x="682.8" y="1213.2" width="300.6" height="2.4" fill="#8a08bf" />
<g fill="#7ed957" stroke="#7ed957" stroke-width="1.88" stroke-linejoin="round"><text transform="translate(761.59,1282.66) scale(0.9589,1)" font-size="65.58" font-weight="bold">3</text><text transform="translate(799.26,1282.66) scale(1.0176,1)" font-size="65.58" font-weight="bold">8</text><text transform="translate(838.95,1282.66) scale(1.0090,1)" font-size="65.58" font-weight="bold">6</text></g>
<text x="734.58" y="1320" font-size="26.7" fill="#8a08bf" textLength="184.09" lengthAdjust="spacingAndGlyphs" stroke="#8a08bf" stroke-width="0.48" stroke-linejoin="round" font-weight="bold" >Spay/Neuters</text>
<g fill="#000000"><path d="M1019.44,1243.90 H1025.74 V1261.90 H1021.87 V1247.68 H1019.44 Z"/><text transform="translate(1028.73,1261.90) scale(0.9690,1)" font-size="26.16" font-weight="bold">5</text><path d="M1045.90,1243.90 H1052.20 V1261.90 H1048.33 V1247.68 H1045.90 Z"/></g>
<g fill="#000000"><text transform="translate(1015.72,1297.60) scale(0.9869,1)" font-size="26.16" font-weight="bold">2</text><text transform="translate(1030.89,1297.60) scale(0.9690,1)" font-size="26.16" font-weight="bold">3</text><text transform="translate(1045.71,1297.60) scale(0.9690,1)" font-size="26.16" font-weight="bold">5</text></g>
<g fill="#000000"><text transform="translate(1037.87,1329.50) scale(1.1008,1)" font-size="26.16" font-weight="bold">0</text></g>
<rect x="567.5" y="1351.8" width="495.5" height="7" fill="#8a08bf" />
<g fill="#7ed957" stroke="#7ed957" stroke-width="1.70" stroke-linejoin="round"><path d="M754.45,1374.05 H769.15 V1414.95 H759.59 V1381.46 H754.45 Z"/><path d="M776.86,1407.71 H784.95 L779.41,1422.62 H773.87 Z"/><text transform="translate(787.63,1414.95) scale(0.9834,1)" font-size="59.44" font-weight="bold">2</text><text transform="translate(819.88,1414.95) scale(1.1089,1)" font-size="59.44" font-weight="bold">0</text><path d="M858.55,1374.05 H873.25 V1414.95 H863.69 V1381.46 H858.55 Z"/></g>
<text x="715.54" y="1451.2" font-size="26.7" fill="#8a08bf" textLength="216.34" lengthAdjust="spacingAndGlyphs" stroke="#8a08bf" stroke-width="0.48" stroke-linejoin="round" font-weight="bold" >All Vaccinations</text>
<rect x="571" y="1467.8" width="495.2" height="7" fill="#8a08bf" />
<text x="728.54" y="1508.2" font-size="24.3" fill="#8a08bf" textLength="207.77" lengthAdjust="spacingAndGlyphs" stroke="#8a08bf" stroke-width="0.44" stroke-linejoin="round" font-weight="bold" >Heartworm Tests</text>
<g fill="#7ed957" stroke="#7ed957" stroke-width="1.70" stroke-linejoin="round"><text transform="translate(786.43,1573.95) scale(1.0217,1)" font-size="59.30" font-weight="bold">9</text><path d="M823.80,1533.15 H850.45 V1540.29 L836.59,1573.95 H826.87 L840.99,1541.31 H823.80 Z"/></g>
<g fill="#7ed957" stroke="#7ed957" stroke-width="2.20" stroke-linejoin="round"><path d="M1199.30,1181.10 H1218.24 V1233.80 H1205.91 V1190.65 H1199.30 Z"/><text transform="translate(1222.09,1233.80) scale(1.1089,1)" font-size="76.60" font-weight="bold">0</text><path d="M1273.08,1181.10 H1307.50 V1190.32 L1289.60,1233.80 H1277.04 L1295.28,1191.64 H1273.08 Z"/></g>
<text x="1167.12" y="1264.3" font-size="22.5" fill="#8a08bf" textLength="172.16" lengthAdjust="spacingAndGlyphs" stroke="#8a08bf" stroke-width="0.40" stroke-linejoin="round" font-weight="bold" >City ACO Calls</text>
<rect x="1167.9" y="1266.7" width="170.6" height="2" fill="#8a08bf" />
<circle cx="1129.6" cy="1302.90" r="2.7" fill="#000000"/>
<text x="1149.53" y="1309.1" font-size="18.6" fill="#000000" textLength="166.42" lengthAdjust="spacingAndGlyphs" stroke="#000000" stroke-width="0.37" stroke-linejoin="round" font-weight="bold" >4 - Aggressive Dogs</text>
<circle cx="1129.6" cy="1326.35" r="2.7" fill="#000000"/>
<text x="1148.68" y="1332.55" font-size="18.6" fill="#000000" textLength="141.73" lengthAdjust="spacingAndGlyphs" stroke="#000000" stroke-width="0.37" stroke-linejoin="round" font-weight="bold" >10 - Injured/Sick</text>
<circle cx="1129.6" cy="1349.80" r="2.7" fill="#000000"/>
<text x="1149.51" y="1356.0" font-size="18.6" fill="#000000" textLength="169.00" lengthAdjust="spacingAndGlyphs" stroke="#000000" stroke-width="0.37" stroke-linejoin="round" font-weight="bold" >4 - ProActive Patrol</text>
<circle cx="1129.6" cy="1373.25" r="2.7" fill="#000000"/>
<text x="1149.25" y="1379.4499999999998" font-size="18.6" fill="#000000" textLength="158.98" lengthAdjust="spacingAndGlyphs" stroke="#000000" stroke-width="0.37" stroke-linejoin="round" font-weight="bold" >8 - Welfare Checks</text>
<circle cx="1129.6" cy="1396.70" r="2.7" fill="#000000"/>
<text x="1148.75" y="1402.8999999999999" font-size="18.6" fill="#000000" textLength="105.08" lengthAdjust="spacingAndGlyphs" stroke="#000000" stroke-width="0.37" stroke-linejoin="round" font-weight="bold" >1 - Assist PD</text>
<circle cx="1129.6" cy="1420.15" r="2.7" fill="#000000"/>
<text x="1149.26" y="1426.35" font-size="18.6" fill="#000000" textLength="176.00" lengthAdjust="spacingAndGlyphs" stroke="#000000" stroke-width="0.37" stroke-linejoin="round" font-weight="bold" >5 - Barking Dog Calls</text>
<circle cx="1129.6" cy="1443.60" r="2.7" fill="#000000"/>
<text x="1149.16" y="1449.8" font-size="18.6" fill="#000000" textLength="116.44" lengthAdjust="spacingAndGlyphs" stroke="#000000" stroke-width="0.37" stroke-linejoin="round" font-weight="bold" >6 - Bite Cases</text>
<circle cx="1129.6" cy="1467.05" r="2.7" fill="#000000"/>
<text x="1149.34" y="1473.25" font-size="18.6" fill="#000000" textLength="150.90" lengthAdjust="spacingAndGlyphs" stroke="#000000" stroke-width="0.37" stroke-linejoin="round" font-weight="bold" >3 - Rabies Testing</text>
<circle cx="1129.6" cy="1490.50" r="2.7" fill="#000000"/>
<text x="1149.25" y="1496.6999999999998" font-size="18.6" fill="#000000" textLength="189.87" lengthAdjust="spacingAndGlyphs" stroke="#000000" stroke-width="0.37" stroke-linejoin="round" font-weight="bold" >5 - Feral Cat Problems</text>
<circle cx="1129.6" cy="1513.95" r="2.7" fill="#000000"/>
<text x="1149.34" y="1520.1499999999999" font-size="18.6" fill="#000000" textLength="154.25" lengthAdjust="spacingAndGlyphs" stroke="#000000" stroke-width="0.37" stroke-linejoin="round" font-weight="bold" >31 - Stray Animals</text>
<circle cx="1129.6" cy="1537.40" r="2.7" fill="#000000"/>
<text x="1148.72" y="1543.6" font-size="18.6" fill="#000000" textLength="192.14" lengthAdjust="spacingAndGlyphs" stroke="#000000" stroke-width="0.37" stroke-linejoin="round" font-weight="bold" >17 - Deceased Animals</text>
<circle cx="1129.6" cy="1560.85" r="2.7" fill="#000000"/>
<text x="1149.06" y="1567.05" font-size="18.6" fill="#000000" textLength="240.04" lengthAdjust="spacingAndGlyphs" stroke="#000000" stroke-width="0.37" stroke-linejoin="round" font-weight="bold" >7 - Follow Up/Investigations</text>
<circle cx="1129.6" cy="1584.30" r="2.7" fill="#000000"/>
<text x="1149.13" y="1590.5" font-size="18.6" fill="#000000" textLength="93.26" lengthAdjust="spacingAndGlyphs" stroke="#000000" stroke-width="0.37" stroke-linejoin="round" font-weight="bold" >6 - Wildlife</text>
<text x="803.38" y="1682" font-size="14.5" fill="#000000" textLength="39.62" lengthAdjust="spacingAndGlyphs" font-weight="bold" >- Dog</text>
<text x="908.35" y="1682" font-size="14.5" fill="#000000" textLength="36.36" lengthAdjust="spacingAndGlyphs" font-weight="bold" >- Cat</text>
<text x="1002.40" y="1682" font-size="14.5" fill="#000000" textLength="109.21" lengthAdjust="spacingAndGlyphs" font-weight="bold" >- Other Species</text>
<text x="1156.38" y="1682" font-size="14.5" fill="#000000" textLength="71.61" lengthAdjust="spacingAndGlyphs" font-weight="bold" >-Feral Cat</text>
<text x="1300.38" y="1682" font-size="14.5" fill="#000000" textLength="57.50" lengthAdjust="spacingAndGlyphs" font-weight="bold" >- Rabbit</text>
<rect x="145.7" y="1690.6" width="1256.9" height="7" fill="#8a08bf" />
<text x="195.75" y="1722.8" font-size="30.2" fill="#000000" textLength="1188.00" lengthAdjust="spacingAndGlyphs" >We would like to thank all of our supporters throughout the community who stand with us</text>
<text x="215.38" y="1764.7" font-size="30.2" fill="#000000" textLength="1149.26" lengthAdjust="spacingAndGlyphs" >as we work to improve the lives of pets in our area. Volunteers, Donors, Staff, Rescue</text>
<text x="378.06" y="1806.2" font-size="30.2" fill="#000000" textLength="814.83" lengthAdjust="spacingAndGlyphs" >Partners and Adopters all help us and our animals everyday.</text>
<text x="311.58" y="1867.3" font-size="24.5" fill="#000000" textLength="1049.56" lengthAdjust="spacingAndGlyphs" >WWW.WEATHERFORDTX.GOV/ANIMALS | ANIMALS@WEATHERFORDTX.GOV | (817) 598-4111</text>
<text x="584.53" y="1899.3" font-size="24.5" fill="#000000" textLength="502.89" lengthAdjust="spacingAndGlyphs" >403 HICKORY LN, WEATHERFORD, TX, 76086</text>
<text x="153.20" y="1901.4" font-size="19" fill="#000000" textLength="129.37" lengthAdjust="spacingAndGlyphs" >@wpcanimal</text>
<g fill="#8a08bf" stroke="#ffffff" stroke-width="4.8">
      <ellipse cx="1422.6" cy="56" rx="14.6" ry="19.2" transform="rotate(-5 1422.6 56)"/>
      <ellipse cx="1456.4" cy="41.6" rx="14.6" ry="19.6" transform="rotate(6 1456.4 41.6)"/>
      <ellipse cx="1492" cy="55.2" rx="14.2" ry="18.8" transform="rotate(42 1492 55.2)"/>
      <ellipse cx="1505.6" cy="92.6" rx="14.2" ry="18.6" transform="rotate(36 1505.6 92.6)"/>
      <path d="M1450,67.5 C1464,60.5 1478,66 1481.5,79 C1484.5,94 1489,110 1488.5,124.5 C1488,141 1475,148 1464.5,147 C1452.5,146 1449,136 1445,129.5 C1440,121 1432,122 1425,124 C1413,127 1404,121 1403,108.5 C1402,95 1411,87 1421.5,82.5 C1432,78 1441,72.5 1450,67.5 Z"/>
    </g>
<path d="M85.4,167.8 Q85.4,160.3 92.9,159.4 L108.4,156.8 A8.5,8.5 0 0 1 116.8,147.8 H168.6 L312.9,125.5 L457.2,147.8 H509 A8.5,8.5 0 0 1 517.4,156.8 L532.9,159.4 Q540.4,160.3 540.4,167.8 V235.2 Q540.4,242.7 532.9,243.6 L517.4,246.2 A8.5,8.5 0 0 1 509,255.2 H457.2 L312.9,277.5 L168.6,255.2 H116.8 A8.5,8.5 0 0 1 108.4,246.2 L92.9,243.6 Q85.4,242.7 85.4,235.2 Z" fill="none" stroke="#000" stroke-width="5.4" stroke-linejoin="round"/>
<g fill="#000" fill-rule="evenodd"><path transform="translate(109.7,180.2)" d="M0,0 H7.6 L10.2,29 L15.6,3.8 H19.6 L24.6,29 L26.8,0 H34.4 L28.6,43 H21.4 L17.6,23 L13.3,43 H6.3 Z"/><path transform="translate(155.2,180.2)" d="M0,0 H24.8 V7.2 H6.8 V17.4 H18.8 V25.2 H6.8 V35.8 H24.8 V43 H0 Z"/><path transform="translate(189.7,180.2)" d="M11.7,0 H18.2 L29.6,43 H22.8 L20.6,32.3 H9.2 L7.5,43 H0 Z M11.7,25.5 H18.2 L15,12.4 Z"/><path transform="translate(223.9,180.2)" d="M0,0 H28.2 V7.2 H17.8 V43 H10 V7.2 H0 Z"/><path transform="translate(263.5,180.2)" d="M0,0 H6.9 V17.4 H18.3 V0 H25.2 V43 H18.3 V25.2 H6.9 V43 H0 Z"/><path transform="translate(302.2,180.2)" d="M0,0 H24.8 V7.2 H6.8 V17.4 H18.8 V25.2 H6.8 V35.8 H24.8 V43 H0 Z"/><path transform="translate(339.9,180.2)" d="M0,0 H20 L25.6,5.5 V20.5 L21.6,24.6 L25.6,43 H18.2 L14.6,26.8 H6.9 V43 H0 Z M6.9,7.6 H18 V18.6 H6.9 Z"/><path transform="translate(378.2,180.2)" d="M0,0 H24.2 V7.2 H6.9 V17.9 H18.6 V25.3 H6.9 V43 H0 Z"/><path transform="translate(414.3,180.2)" d="M5.5,0 H19.4 L24.9,5.5 V37.5 L19.4,43 H5.5 L0,37.5 V5.5 Z M7,7.4 V35.7 H17.9 V7.4 Z"/><path transform="translate(453.3,180.2)" d="M0,0 H20 L25.6,5.5 V20.5 L21.6,24.6 L25.6,43 H18.2 L14.6,26.8 H6.9 V43 H0 Z M6.9,7.6 H18 V18.6 H6.9 Z"/><path transform="translate(491.8,180.2)" d="M0,0 H19.3 L24.8,5.5 V37.5 L19.3,43 H0 Z M7,7.4 V35.7 H17.7 V7.4 Z"/></g>
<rect x="265.2" y="149.2" width="2.6" height="13.1" fill="#000"/>
<text transform="translate(276.01,162.3) scale(1.4883,1)" font-size="19.3" fill="#000">8</text><text transform="translate(329.46,162.3) scale(1.3526,1)" font-size="19.3" fill="#000">5</text><text transform="translate(346.67,162.3) scale(1.4111,1)" font-size="19.3" fill="#000">8</text>
<path d="M302.4,143.5 H308.8 V148.3 C312,149.5 315,150 318.5,150.4 C320.5,150.6 321.6,151.5 321.6,153 L322.6,158.1 C322.5,159.6 321.8,160.2 321.1,160.7 C319.5,161.8 318,162.5 317.2,163.3 C315.5,164.5 314.8,166 314.6,168.5 L314.6,170.3 C313.3,170 312,169.6 311.5,169.3 C310.5,168.5 310,168 309.7,167.2 L306.8,162 C306,161 305,160.5 304.5,160.5 C303.5,160.7 302.7,162 302.2,162.3 C301,162.5 300.3,161.8 299.8,161.2 L298.3,158.1 C297.3,156.5 296,155.6 295.4,155 L296.2,154.2 H302.4 Z" fill="#000"/>
<text transform="translate(223.82,246) scale(1.1842,1)" font-size="16" fill="#000">T</text><text transform="translate(242.50,246) scale(1.0189,1)" font-size="16" fill="#000">R</text><text transform="translate(263.33,246) scale(0.9759,1)" font-size="16" fill="#000">U</text><text transform="translate(283.03,246) scale(1.0665,1)" font-size="16" fill="#000">E</text><text transform="translate(313.73,246) scale(1.1513,1)" font-size="16" fill="#000">T</text><text transform="translate(332.08,246) scale(1.1124,1)" font-size="16" fill="#000">E</text><text transform="translate(351.01,246) scale(0.9677,1)" font-size="16" fill="#000">X</text><text transform="translate(370.30,246) scale(1.0902,1)" font-size="16" fill="#000">A</text><text transform="translate(390.22,246) scale(1.2283,1)" font-size="16" fill="#000">S</text>
<path id="arcp" d="M189,315.8 A718,718 0 0 0 433.5,315.6" fill="none"/>
<text font-size="20.3" fill="#000" letter-spacing="4.35"><textPath href="#arcp">ANIMAL SERVICES</textPath></text>
<g fill="none" stroke="#8a08bf" stroke-width="6.8">
      <rect x="207" y="506.3" width="70.6" height="63.3" rx="5"/>
      <line x1="207" y1="524.3" x2="277.6" y2="524.3"/></g>
      <g fill="#8a08bf">
      <rect x="214" y="499.2" width="6.8" height="12.6"/><rect x="239.1" y="499.2" width="6.8" height="12.6"/><rect x="264" y="499.2" width="6.8" height="12.6"/>
      <rect x="219.3" y="534.9" width="7.4" height="7.4"/><rect x="238.8" y="534.9" width="7.4" height="7.4"/><rect x="258.3" y="534.9" width="7.4" height="7.4"/>
      <rect x="219.3" y="548.9" width="7.4" height="7.4"/><rect x="238.8" y="548.9" width="7.4" height="7.4"/><rect x="258.3" y="548.9" width="7.4" height="7.4"/>
      </g>
<use href="#dog" x="513.4" y="490.7" width="19.3" height="22.2" fill="#8a08bf" color="#8a08bf"/>
<use href="#cat" x="509.8" y="520.7" width="26.2" height="20.2" fill="#8a08bf" color="#8a08bf"/>
<use href="#cathead" x="511" y="551.9" width="22" height="22" fill="#8a08bf"/>
<use href="#paw" x="513.4" y="581.9" width="21.6" height="20" fill="#8a08bf"/>
<g fill="#8a08bf"><circle cx="776.4" cy="512.8" r="7.8"/>
      <path d="M768,522.5 H784.5 C790,522.5 793.6,530 794,545 V554.5 C794,558 788.5,558 788.3,554.5 L788,541 C787.6,536 786.8,533 785.8,531 V583.5 C785.8,589.5 777.2,589.5 777.2,583.5 V552 H775.4 V583.5 C775.4,589.5 766.8,589.5 766.8,583.5 V531 C765.8,533 765,536 764.7,541 L764.5,554.5 C764.3,558 758.8,558 758.8,554.5 V545 C759.2,530 762.6,522.5 768,522.5 Z"/>
      <path d="M791.4,563.3 L793.8,565.8 H797.6 L799.8,563.3 L800.2,571 C805,572.5 808.5,577 808.8,584 C811.8,584.2 814.8,582.4 817,579.6 L818.4,580.6 C816,585 811.5,587.6 806,588 H799.5 L798.5,585.8 L797.3,588 H795.4 L794.9,582 L794,588 H792.4 C791.6,583 791.2,577 791.4,571 Z"/></g>
<g fill="none" stroke="#8a08bf" stroke-width="1.9" stroke-linejoin="round" stroke-linecap="round">
      <path d="M1174,514 Q1194,511.5 1214,514 M1174,582 Q1194,585 1214,582 M1167,520 Q1165.5,547 1167.2,575.5 M1221.2,520 Q1222.7,547 1221,575.5"/>
      <rect x="1159.7" y="507" width="12.5" height="12.5" rx="2.5" transform="rotate(45 1166 513.2)"/>
      <rect x="1215.7" y="507" width="12.5" height="12.5" rx="2.5" transform="rotate(45 1222 513.2)"/>
      <rect x="1159.7" y="576.3" width="12.5" height="12.5" rx="2.5" transform="rotate(45 1166 582.5)"/>
      <rect x="1215.7" y="576.3" width="12.5" height="12.5" rx="2.5" transform="rotate(45 1222 582.5)"/>
      <rect x="1173" y="518.8" width="41.5" height="45.8" rx="4"/>
      <path d="M1176.5,564 C1178,556 1180,551 1181,546 C1179.5,540 1180,533 1180.5,529 C1179,525 1179,523 1181,522.5 C1183,523 1185,525 1187,527 C1191,526 1197,526 1201.5,527 C1203.5,525 1205.5,523 1207.5,522.5 C1209.5,523 1209.5,525 1208,529 C1209,533 1209.5,540 1207.5,546 C1208.5,551 1210,556 1211,564"/>
      <circle cx="1187.3" cy="539.7" r="3"/><circle cx="1201" cy="539.7" r="3"/>
      <path d="M1192.3,545.5 H1196 L1194.1,547.5 Z M1190,549 C1191.5,551 1193,550.5 1194.1,548 C1195,550.5 1196.7,551 1198.2,549 M1187,555.5 Q1194,558 1201,555.5"/>
      <path d="M1175.5,545 L1186,546.2 M1176.5,549.5 L1186,548 M1212.5,545 L1202,546.2 M1211.5,549.5 L1202,548"/>
      <path d="M1182,569.3 H1212 M1182,575.3 H1212 M1176.5,571 L1177.5,567.5 M1178.8,571 L1179.8,567.5 M1176.5,577 L1177.5,573.5 M1178.8,577 L1179.8,573.5"/>
    </g>
<path d="M154.2,867.5 L184.1,838.3 L213.9,867.5" fill="none" stroke="#8a08bf" stroke-width="7.2" stroke-linecap="round" stroke-linejoin="miter"/>
      <path d="M163.1,852 V841 C163.1,837 168.9,837 168.9,841 V847" fill="#8a08bf" stroke="none"/>
      <path d="M157.2,874.7 L184.1,848.3 L210.9,874.7 V902.4 H201.4 V878.9 H187.7 V902.4 H157.2 Z M166.8,878.9 V890.1 H179.1 V878.9 Z" fill="#8a08bf" fill-rule="evenodd"/>
<use href="#dog" x="503.25" y="799.25" width="19.75" height="22.75" fill="#8a08bf" color="#8a08bf"/>
<use href="#cat" x="500" y="834.75" width="26" height="20" fill="#8a08bf" color="#8a08bf"/>
<use href="#paw" x="504.75" y="871.25" width="22.25" height="20.5" fill="#8a08bf"/>
<use href="#dog" x="503.25" y="959.75" width="19.75" height="22.25" fill="#8a08bf" color="#8a08bf"/>
<use href="#cat" x="500" y="997" width="26" height="20.75" fill="#8a08bf" color="#8a08bf"/>
<use href="#paw" x="500" y="1029" width="22" height="20.5" fill="#8a08bf"/>
<g fill="#8a08bf"><circle cx="207.1" cy="983.8" r="10.7"/>
      <path d="M192,992.3 C197,992 199,995 199.3,999 L195.5,1009 L190,1021 L204.5,1017.5 C209,1016.5 212.5,1019.5 212.3,1023.5 C212.2,1026 211,1028 209,1030 L189,1048 C186,1050.5 181.5,1050 179.5,1047 C178,1044.5 179,1041.5 181,1039.5 L185,1035.5 C180,1035 175.5,1033.5 173.5,1030 C171.5,1026 172,1020 173,1015 C175,1006 179,997 184,994 C186.5,992.5 189,992.3 192,992.3 Z"/>
      <path d="M189.5,997 L224.5,1014.5" stroke="#8a08bf" stroke-width="7" stroke-linecap="round"/>
      <path d="M217.2,1019 C220,1019.5 223,1019.8 228,1019.6 C230,1022 232.5,1023.5 235,1024.5 C240,1027 244,1031 245.5,1037 C246.5,1040 246.5,1042 246,1043.5 C249,1043.3 252,1041.5 254.7,1038.5 L256,1039.8 C253.5,1044 249.5,1046 245,1046.5 H235 L237.5,1044 C234.5,1043 231,1040 228.5,1038 L227.5,1045 L225.5,1046 L224.5,1034 C224,1031 222.5,1029 220.5,1028 L218.5,1022 Z"/></g>
      <path d="M189.8,997.5 L224,1014.3" stroke="#fff" stroke-width="0.9" fill="none" opacity="0"/>
<path d="M655.5,782 H684.1 V774.1 L704.6,788.3 L684.1,802.5 V794.8 H655.5 Z M673.9,802.4 H644.9 V795.1 L624.7,809.3 L644.9,822.9 V815.8 H673.9 Z" fill="#8a08bf"/>
<use href="#dog" x="869.3" y="776" width="20.2" height="21.7" fill="#8a08bf" color="#8a08bf"/>
<use href="#cat" x="866.1" y="808.1" width="25.9" height="20.2" fill="#8a08bf" color="#8a08bf"/>
<use href="#paw" x="868" y="843.8" width="22" height="20.2" fill="#8a08bf"/>
<use href="#cathead" x="648" y="931.1" width="49" height="48.6" fill="#8a08bf"/>
<path d="M1111.4,778.8 C1106,774 1100,772.4 1094.8,772.4 C1085,772.4 1078,781 1078,791.5 C1078,800 1083,806 1090,811 L1111.4,825.8 L1133,811 C1140,806 1145.5,800 1145.5,791.5 C1145.5,781 1138,772.4 1128,772.4 C1123,772.4 1117,774 1111.4,778.8 Z" fill="#8a08bf"/>
<use href="#paw" x="1098.5" y="785" width="25.5" height="24" fill="#ffffff"/>
<use href="#dog" x="1283.6" y="776.5" width="21.1" height="19.5" fill="#8a08bf" color="#8a08bf"/>
<use href="#cat" x="1280.4" y="808.2" width="27.5" height="20.1" fill="#8a08bf" color="#8a08bf"/>
<use href="#cathead" x="1282" y="838.6" width="22" height="20.4" fill="#8a08bf"/>
<use href="#paw" x="1282" y="867.8" width="22.7" height="20.4" fill="#8a08bf"/>
<path d="M1070.5,910.7 L1113.2,897.5 L1155.9,910.7" fill="none" stroke="#8a08bf" stroke-width="8" stroke-linecap="round" stroke-linejoin="miter"/>
    <path d="M1128,919 C1132,918.5 1135,919.5 1136.5,922.5 L1145.5,925 C1147.2,925.5 1147.5,927 1146.8,928.5 L1144,934 C1143,935.8 1141.5,936.2 1139.5,936 C1135,935.8 1133,937.5 1131.5,941 C1130,946 1129.8,952 1130,956 C1130.2,960 1129.5,962 1127.8,963.5 L1130.3,983 C1133,983.5 1134.5,985 1134.5,987.3 C1134.5,989.5 1133,990.7 1130.5,990.7 H1117.3 C1117.5,984 1116.5,979 1114,975 C1116.3,973.5 1117.5,971 1117.3,968.5 L1116.3,966.2 C1117.2,963 1117.8,959 1118,955.4 C1116,955.8 1113.5,957 1112.3,958.6 H1107.5 C1106.3,957 1104,955.8 1100.1,955.4 C1100.3,959 1100.8,963 1101.8,966.2 L1100.7,968.5 C1100.6,971 1101.7,973.5 1103.8,975 C1100,979 1096,984 1096.1,990.7 H1079 C1073.5,990.7 1069.5,986 1068.3,981.5 C1067.8,979 1067.7,976 1067.7,973.5 C1067.7,968.3 1074.8,968.3 1074.8,973.5 C1074.8,978 1076.5,982.5 1080,982.9 H1083.8 V974 C1084,963 1088,955 1094.5,950.5 C1099,947.5 1104.5,945.5 1108.5,943 C1111,941.5 1113,939.8 1114.3,937.3 C1112.5,936 1110.5,936 1109.5,935.3 C1108.8,932 1110,927.5 1114,924 C1117,921.8 1120,921 1121.8,920.7 C1123.5,919.5 1125.5,919 1128,919 Z" fill="#8a08bf"/>
<path transform="translate(169.3,1222.9) scale(1.0)" d="M0,21 V5 C0,2 4.4,2 4.4,5 V12 M4.4,5 V3 C4.4,0 8.8,0 8.8,3 V12 M8.8,3.6 C8.8,1 13.2,1 13.2,3.6 V12 M13.2,5.5 C13.2,3 17.6,3 17.6,5.5 V24 C17.6,28 15.8,30 15.6,33 V36 M0,21 L-4.2,18.6 C-6,18 -7.2,19.2 -6.2,20.4 C-3.4,23.5 -1.6,26 -0.6,29.5 C0.2,32 2.6,33 3,36 M1.8,36 H16.8 M2.2,36 V49.10 M16.4,36 V49.10" fill="none" stroke="#8a08bf" stroke-width="2.000" stroke-linecap="round" stroke-linejoin="round"/>
<path transform="translate(226,1208) scale(1.0)" d="M0,21 V5 C0,2 4.4,2 4.4,5 V12 M4.4,5 V3 C4.4,0 8.8,0 8.8,3 V12 M8.8,3.6 C8.8,1 13.2,1 13.2,3.6 V12 M13.2,5.5 C13.2,3 17.6,3 17.6,5.5 V24 C17.6,28 15.8,30 15.6,33 V36 M0,21 L-4.2,18.6 C-6,18 -7.2,19.2 -6.2,20.4 C-3.4,23.5 -1.6,26 -0.6,29.5 C0.2,32 2.6,33 3,36 M1.8,36 H16.8 M2.2,36 V42 M2.2,45 V64.00 M16.4,36 V64.00" fill="none" stroke="#8a08bf" stroke-width="2.000" stroke-linecap="round" stroke-linejoin="round"/>
<path transform="translate(191.6,1190.1) scale(1.38)" d="M0,21 V5 C0,2 4.4,2 4.4,5 V12 M4.4,5 V3 C4.4,0 8.8,0 8.8,3 V12 M8.8,3.6 C8.8,1 13.2,1 13.2,3.6 V12 M13.2,5.5 C13.2,3 17.6,3 17.6,5.5 V24 C17.6,28 15.8,30 15.6,33 V36 M0,21 L-4.2,18.6 C-6,18 -7.2,19.2 -6.2,20.4 C-3.4,23.5 -1.6,26 -0.6,29.5 C0.2,32 2.6,33 3,36 M1.8,36 H16.8 M2.2,36 V42 M2.2,45 V59.35 M16.4,36 V59.35" fill="none" stroke="#8a08bf" stroke-width="1.449" stroke-linecap="round" stroke-linejoin="round"/>
<path d="M204.3,1209 C202.5,1205.8 197.3,1206 197.3,1210.2 C197.3,1213.5 201.5,1216.5 204.3,1219 C207.1,1216.5 211.3,1213.5 211.3,1210.2 C211.3,1206 206.1,1205.8 204.3,1209 Z" fill="none" stroke="#8a08bf" stroke-width="2"/>
<path transform="translate(208.2,1328.8) rotate(0)" d="M-41.2,-10 H-33.7 M-41.2,5 H-33.7 M-33.7,-10.5 V5.5 H-28.5 V-10.5 Z M-28.5,-8.5 C-25,-10 -23,-14.5 -20,-14.8 C-18,-15 -17.5,-13.5 -17.3,-12.6 H-14 C-12,-12.6 -11.4,-10.6 -12.4,-9.6 C-10.6,-8.6 -10.6,-6.4 -12.4,-5.6 C-10.6,-4.6 -10.6,-2.4 -12.4,-1.6 C-10.6,-0.6 -10.6,1.6 -12.4,2.4 C-11.2,3.8 -11.8,5.4 -13.8,5.4 H-21.5 C-24,5.4 -26,4.4 -28.5,3.4" fill="none" stroke="#8a08bf" stroke-width="1.25" stroke-linejoin="round" stroke-linecap="round"/>
<path transform="translate(208.2,1328.8) rotate(72)" d="M-41.2,-10 H-33.7 M-41.2,5 H-33.7 M-33.7,-10.5 V5.5 H-28.5 V-10.5 Z M-28.5,-8.5 C-25,-10 -23,-14.5 -20,-14.8 C-18,-15 -17.5,-13.5 -17.3,-12.6 H-14 C-12,-12.6 -11.4,-10.6 -12.4,-9.6 C-10.6,-8.6 -10.6,-6.4 -12.4,-5.6 C-10.6,-4.6 -10.6,-2.4 -12.4,-1.6 C-10.6,-0.6 -10.6,1.6 -12.4,2.4 C-11.2,3.8 -11.8,5.4 -13.8,5.4 H-21.5 C-24,5.4 -26,4.4 -28.5,3.4" fill="none" stroke="#8a08bf" stroke-width="1.25" stroke-linejoin="round" stroke-linecap="round"/>
<path transform="translate(208.2,1328.8) rotate(144)" d="M-41.2,-10 H-33.7 M-41.2,5 H-33.7 M-33.7,-10.5 V5.5 H-28.5 V-10.5 Z M-28.5,-8.5 C-25,-10 -23,-14.5 -20,-14.8 C-18,-15 -17.5,-13.5 -17.3,-12.6 H-14 C-12,-12.6 -11.4,-10.6 -12.4,-9.6 C-10.6,-8.6 -10.6,-6.4 -12.4,-5.6 C-10.6,-4.6 -10.6,-2.4 -12.4,-1.6 C-10.6,-0.6 -10.6,1.6 -12.4,2.4 C-11.2,3.8 -11.8,5.4 -13.8,5.4 H-21.5 C-24,5.4 -26,4.4 -28.5,3.4" fill="none" stroke="#8a08bf" stroke-width="1.25" stroke-linejoin="round" stroke-linecap="round"/>
<path transform="translate(208.2,1328.8) rotate(216)" d="M-41.2,-10 H-33.7 M-41.2,5 H-33.7 M-33.7,-10.5 V5.5 H-28.5 V-10.5 Z M-28.5,-8.5 C-25,-10 -23,-14.5 -20,-14.8 C-18,-15 -17.5,-13.5 -17.3,-12.6 H-14 C-12,-12.6 -11.4,-10.6 -12.4,-9.6 C-10.6,-8.6 -10.6,-6.4 -12.4,-5.6 C-10.6,-4.6 -10.6,-2.4 -12.4,-1.6 C-10.6,-0.6 -10.6,1.6 -12.4,2.4 C-11.2,3.8 -11.8,5.4 -13.8,5.4 H-21.5 C-24,5.4 -26,4.4 -28.5,3.4" fill="none" stroke="#8a08bf" stroke-width="1.25" stroke-linejoin="round" stroke-linecap="round"/>
<path transform="translate(208.2,1328.8) rotate(288)" d="M-41.2,-10 H-33.7 M-41.2,5 H-33.7 M-33.7,-10.5 V5.5 H-28.5 V-10.5 Z M-28.5,-8.5 C-25,-10 -23,-14.5 -20,-14.8 C-18,-15 -17.5,-13.5 -17.3,-12.6 H-14 C-12,-12.6 -11.4,-10.6 -12.4,-9.6 C-10.6,-8.6 -10.6,-6.4 -12.4,-5.6 C-10.6,-4.6 -10.6,-2.4 -12.4,-1.6 C-10.6,-0.6 -10.6,1.6 -12.4,2.4 C-11.2,3.8 -11.8,5.4 -13.8,5.4 H-21.5 C-24,5.4 -26,4.4 -28.5,3.4" fill="none" stroke="#8a08bf" stroke-width="1.25" stroke-linejoin="round" stroke-linecap="round"/>
<path d="M208.2,1325.3 C206.2,1321.8 201.2,1322.8 201.7,1327.3 C202.2,1330.8 206.2,1333.3 208.2,1335.3 C210.2,1333.3 214.2,1330.8 214.7,1327.3 C215.2,1322.8 210.2,1321.8 208.2,1325.3 Z" transform="rotate(-20 208.2 1328.8)" fill="none" stroke="#8a08bf" stroke-width="1.25"/>
<g fill="none" stroke="#8a08bf" stroke-width="1.3" stroke-linecap="round" stroke-linejoin="round">
      <circle cx="181.7" cy="1416.8" r="5.6"/><circle cx="227.5" cy="1416.8" r="5.6"/>
      <path d="M178,1423.5 H187 C189,1423.5 190,1422 191.5,1420 L199,1410 C200.5,1408 203,1408 204.3,1410 C205,1411.3 204.8,1412.5 204,1413.5 L191,1431 C190.2,1432.3 189.7,1433.5 189.7,1435 V1464 C189.7,1468.3 182.7,1468.3 182.7,1464 V1448 M182.7,1464 C182.7,1468.3 175.4,1468.3 175.4,1464 V1434 L173.7,1443.5 C173,1447 167.5,1447 167.7,1443 L171,1428 C172,1425 175,1423.5 178,1423.5 Z"/><path d="M178,1423.5 H187 C189,1423.5 190,1422 191.5,1420 L199,1410 C200.5,1408 203,1408 204.3,1410 C205,1411.3 204.8,1412.5 204,1413.5 L191,1431 C190.2,1432.3 189.7,1433.5 189.7,1435 V1464 C189.7,1468.3 182.7,1468.3 182.7,1464 V1448 M182.7,1464 C182.7,1468.3 175.4,1468.3 175.4,1464 V1434 L173.7,1443.5 C173,1447 167.5,1447 167.7,1443 L171,1428 C172,1425 175,1423.5 178,1423.5 Z" transform="translate(409.2,0) scale(-1,1)"/>
      <path d="M204.6,1394.8 V1401.6 M193.3,1396.6 L198.2,1401.4 M215.9,1396.6 L211,1401.4"/></g>
<path d="M199.7,1548.8 C196,1545 192,1543.8 188,1543.8 C180,1543.8 175.1,1550 175.1,1557 C175.1,1562 176,1565 178,1568 C184,1577 192,1583 199.7,1589 C207,1583 215,1577 221,1568 C223,1565 224,1562 224,1557 C224,1550 219,1543.8 211,1543.8 C207,1543.8 203,1545 199.7,1548.8 Z" fill="#8a08bf"/>
      <path d="M172,1563.6 H185.5 L192.6,1571 L199.6,1555.5 L206.7,1573.6 L210.3,1563.6 H227" fill="none" stroke="#fff" stroke-width="3.6" stroke-linejoin="round"/>
<g fill="none" stroke="#8a08bf" stroke-width="1.6" stroke-linecap="round" stroke-linejoin="round">
      <path d="M617.6,1201.1 H613.8 V1209.9 H605 V1221.6 H613.8 V1230.9 H625.3 V1221.6 H648.6 C657,1218 663.8,1210 663.8,1199 C663.8,1190 657,1182 647.4,1179 V1186.2 C642,1186 638,1189 636.7,1193.2 C633.5,1194 632.5,1196 633,1198.5 C633.5,1202 635,1203.5 638,1203.6 C641.5,1204 644,1206.5 644.4,1210.5"/>
      <path d="M625.5,1208.3 V1210.2 H634.6 V1215.5"/>
      <path d="M640.2,1177.5 C635,1174 628,1173.3 618.7,1173.8 C617.5,1176 617,1178 616.6,1179.5 C615,1181.5 612,1182.5 606.5,1183.5 C605.5,1185 605.8,1187 606.8,1188.5 C607.8,1192 609,1194.5 611.5,1195.6 H622.8"/>
      <path d="M606.5,1184 C609,1183.5 611.5,1183 612,1184.5 C611.5,1187 609.5,1188.6 607,1188.4"/>
      <path d="M628.5,1181.6 C628,1187 625,1191 622.9,1196 C622,1200 624,1203 627.8,1203.6"/>
      <path d="M619,1182.5 C620,1180.5 622.5,1180.5 623.5,1182.5 M641.5,1193 C642.5,1191 645,1191 646,1193"/>
    </g>
<g transform="translate(602.1,1457.2) rotate(-45.3)" fill="none" stroke="#8a08bf" stroke-width="1.35" stroke-linecap="round" stroke-linejoin="round">
      <path d="M0,-8.7 V8.7 M0,0 H25 M25,-11.2 V11.2 M25,-7 H82 C84,-7 85,-6 85,-4 V4 C85,6 84,7 82,7 H25 M85,-3.6 H90 V3.6 H85 M90,0 H122.5"/>
      <path d="M32,-3.3 H73 M75.5,-3.3 H80.5"/>
      <path d="M45,7 V3.3 M50,7 V4.8 M55,7 V3.3 M60,7 V4.8 M65,7 V3.3 M70,7 V4.8 M76,7 V3.3"/>
    </g>
<g fill="none" stroke="#8a08bf" stroke-width="2.2" stroke-linecap="round" stroke-linejoin="round">
      <rect x="1000.5" y="1373.2" width="23.2" height="8.9" rx="1.5"/>
      <path d="M1004.4,1382.1 V1389.6 M1019,1382.1 V1389.6"/>
      <path d="M995.9,1414.2 V1394 C995.9,1391.5 998,1389.6 1000.5,1389.6 H1024 C1026.5,1389.6 1028.3,1391.5 1028.3,1394 V1413.8"/>
      <path d="M1011.9,1399 V1410 M1006.4,1404.5 H1017.4"/>
      <path d="M946.4,1431.9 L956,1422.7 L978.4,1447.2 L968.5,1456.5 Z"/>
      <path d="M959.3,1424.2 C966,1418 971,1413 978.4,1412 C986,1411.5 992,1415 1000,1416.3 L1011.2,1417.3 C1014.5,1417.8 1016.5,1420.5 1016.2,1423.5 C1015.8,1426.5 1013.2,1428.6 1010.3,1428.5 L992,1427.7"/>
      <path d="M1016.2,1420.2 L1028.3,1413.4 C1031,1410 1036,1408.4 1040.5,1409.3 C1043.5,1410 1044.5,1412 1042.8,1414 C1035,1424 1022,1436 1009.5,1444 C1003,1445 995,1443 982.7,1440.6 C979.6,1440 977.6,1441 976.8,1443.3"/>
    </g>
<use href="#heart" x="742.9" y="1596.3" width="27.6" height="25.2" fill="#8a08bf"/>
<use href="#heart" x="776.1999999999999" y="1596.3" width="27.6" height="25.2" fill="#8a08bf"/>
<use href="#heart" x="809.5" y="1596.3" width="27.6" height="25.2" fill="#8a08bf"/>
<use href="#heart" x="842.8" y="1596.3" width="27.6" height="25.2" fill="#8a08bf"/>
<use href="#heart" x="876.0999999999999" y="1596.3" width="27.6" height="25.2" fill="#8a08bf"/>
<g fill="#8a08bf">
      <rect x="1114.3" y="1227.2" width="49.5" height="6.3" rx="1"/>
      <path d="M1119.4,1223.6 L1123.1,1191.5 C1124,1188 1131,1186.4 1139.1,1186.4 C1147,1186.4 1154.2,1188 1155.1,1191.5 L1158.7,1223.6 Z"/></g>
      <path d="M1125.4,1191.2 C1130,1189.6 1134,1189 1139.1,1189 C1144,1189 1148.5,1189.6 1152.8,1191.2" fill="none" stroke="#fff" stroke-width="1.2"/>
      <path d="M1126.6,1223.6 L1128.8,1199" fill="none" stroke="#fff" stroke-width="4.2" stroke-linecap="round"/>
      <g stroke="#8a08bf" stroke-width="1.9" stroke-linecap="round">
      <path d="M1139.1,1176.3 V1182.3 M1122.8,1180.4 L1126.9,1186.2 M1154.9,1180.4 L1150.7,1186.2 M1113.1,1189.8 L1119.9,1195.2 M1164.3,1189.8 L1157.8,1195.2 M1110,1204.2 L1116.3,1205.9 M1167,1204.2 L1161.4,1205.9 M1110.9,1220.4 L1116.7,1218 M1166.7,1220.4 L1160.9,1218"/></g>
<use href="#dog" x="967.7" y="1238.6" width="19.9" height="22.8" fill="#8a08bf" color="#8a08bf"/>
<use href="#cat" x="964.2" y="1278.1" width="26.2" height="19.9" fill="#8a08bf" color="#8a08bf"/>
<use href="#paw" x="966" y="1311" width="21.6" height="21" fill="#8a08bf"/>
<use href="#dog" x="774.7" y="1664.5" width="22.3" height="24" fill="#8a08bf" color="#8a08bf"/>
<use href="#cat" x="871" y="1667" width="31" height="21" fill="#8a08bf" color="#8a08bf"/>
<use href="#paw" x="974.6" y="1667" width="24.8" height="21" fill="#8a08bf"/>
<use href="#cathead" x="1127.4" y="1661" width="22.6" height="25.2" fill="#8a08bf"/>
<g fill="none" stroke="#8a08bf" stroke-width="1.9" stroke-linecap="round">
      <path d="M1254.5,1688 C1246,1682 1244.5,1670 1252.5,1668 C1259,1666.8 1263,1676 1261.8,1688 M1278.5,1688 C1287,1682 1288.5,1670 1280.5,1668 C1274,1666.8 1270,1676 1271.2,1688"/></g>
      <path d="M1252.5,1676 L1257.5,1687.5 L1259.8,1675.5 Z M1280.5,1676 L1275.5,1687.5 L1273.2,1675.5 Z" fill="#8a08bf"/>
<path d="M159.3,1871.5 V1860.5 H156 V1856.4 H159.3 V1853.6 C159.3,1850.5 161,1849.2 164,1849.2 L166.5,1849.4 V1853 H164.6 C163.4,1853 163,1853.6 163,1854.6 V1856.4 H166.4 L165.9,1860.5 H163 V1871.5 Z" fill="#000"/>
<rect x="193" y="1852.5" width="19.5" height="19.5" rx="5" fill="none" stroke="#000" stroke-width="2.2"/><circle cx="202.75" cy="1862.25" r="4.6" fill="none" stroke="#000" stroke-width="2.2"/><circle cx="208.1" cy="1856.7" r="1.3" fill="#000"/>
</svg>
</body></html>
